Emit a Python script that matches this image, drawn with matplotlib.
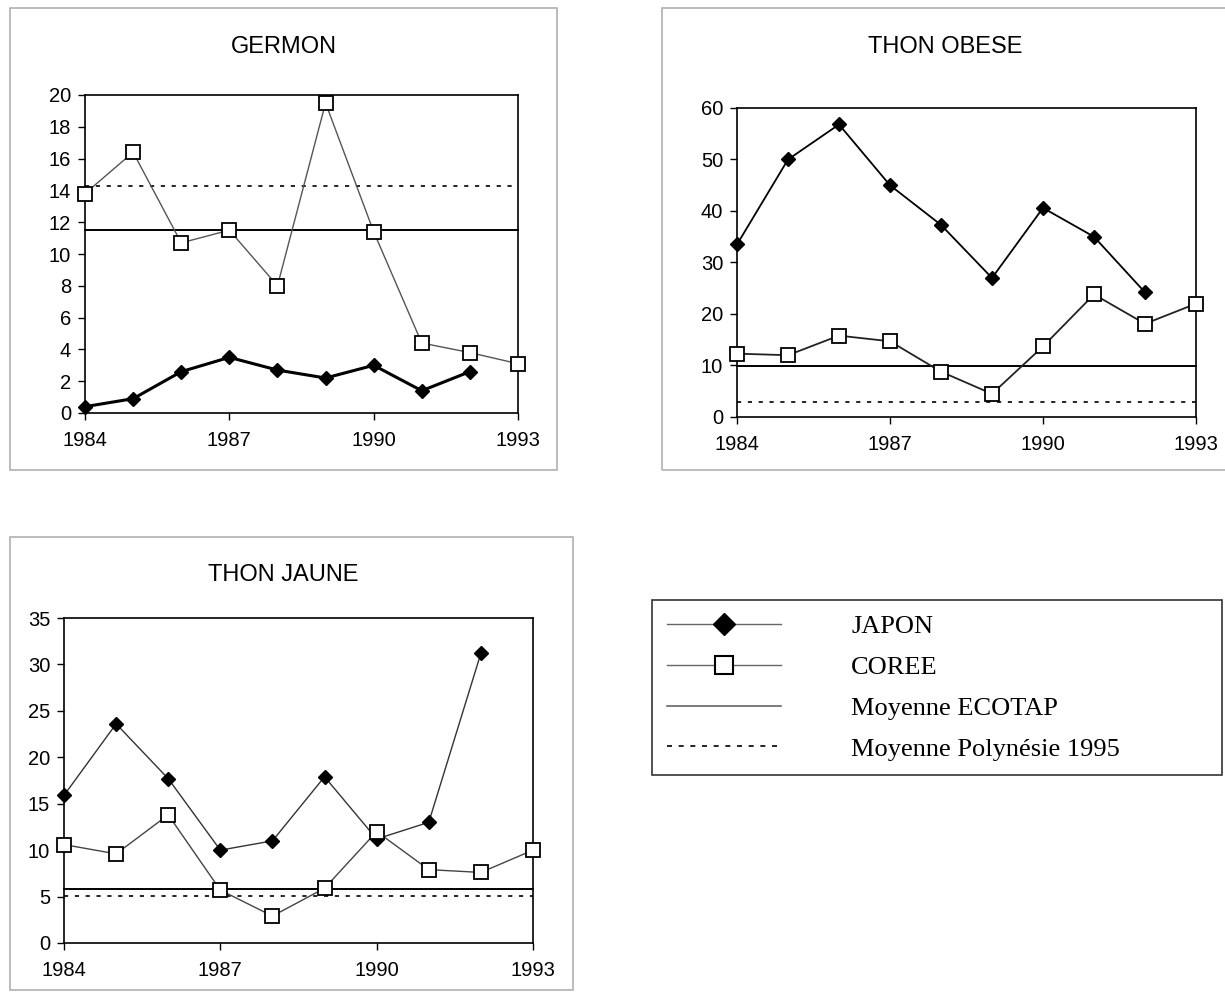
import matplotlib
matplotlib.use("Agg")
import matplotlib.pyplot as plt
from matplotlib.lines import Line2D
from matplotlib.patches import Rectangle

plt.rcParams['font.family'] = ['Liberation Sans', 'DejaVu Sans']

years_japon = [1984, 1985, 1986, 1987, 1988, 1989, 1990, 1991, 1992]
years_coree = [1984, 1985, 1986, 1987, 1988, 1989, 1990, 1991, 1992, 1993]

germon_japon = [0.4, 0.9, 2.6, 3.5, 2.7, 2.2, 3.0, 1.4, 2.6]
germon_coree = [13.8, 16.4, 10.7, 11.5, 8.0, 19.5, 11.4, 4.4, 3.8, 3.1]
germon_ecotap = 11.5
germon_polynesie = 14.3

obese_japon = [33.5, 50.0, 56.8, 45.0, 37.3, 27.0, 40.6, 35.0, 24.2]
obese_coree = [12.3, 12.0, 15.8, 14.7, 8.8, 4.5, 13.7, 23.8, 18.1, 22.0]
obese_ecotap = 9.9
obese_polynesie = 2.9

jaune_japon = [15.9, 23.6, 17.7, 10.0, 11.0, 17.9, 11.2, 13.0, 31.2]
jaune_coree = [10.6, 9.6, 13.8, 5.7, 2.9, 5.9, 12.0, 7.9, 7.6, 10.0]
jaune_ecotap = 5.8
jaune_polynesie = 5.1

x_ticks = [1984, 1987, 1990, 1993]
legend_labels = ["JAPON", "COREE", "Moyenne ECOTAP", "Moyenne Polynésie 1995"]

W, H = 1225, 994
fig = plt.figure(figsize=(W / 100, H / 100), dpi=100)
fig.patch.set_facecolor('white')


def px_axes(x0, y0, x1, y1):
    return fig.add_axes([x0 / W, 1 - y1 / H, (x1 - x0) / W, (y1 - y0) / H])


def frame(x0, y0, x1, y1):
    fig.patches.append(Rectangle((x0 / W, 1 - y1 / H), (x1 - x0) / W, (y1 - y0) / H,
                                 transform=fig.transFigure, fill=False,
                                 edgecolor='#b0b0b0', linewidth=1.2))


def panel(box, title, title_xy, japon, coree, ecotap, poly, ymax, ystep,
          jlw, clw, ccolor, jcolor):
    ax = px_axes(*box)
    ax.plot(years_japon, japon, color=jcolor, lw=jlw, marker='D', markersize=7.5,
            markerfacecolor='black', markeredgecolor='black', zorder=4)
    ax.plot(years_coree, coree, color=ccolor, lw=clw, marker='s', markersize=10,
            markerfacecolor='white', markeredgecolor='black', markeredgewidth=1.3,
            zorder=5)
    ax.axhline(ecotap, color='black', lw=1.4, zorder=3)
    ax.axhline(poly, color='black', lw=1.2, ls=(0, (2.5, 4)), zorder=3)
    ax.set_xlim(1984, 1993)
    ax.set_ylim(0, ymax)
    ax.set_xticks(x_ticks)
    ax.set_yticks(list(range(0, ymax + 1, ystep)))
    ax.tick_params(direction='out', length=5, width=1, labelsize=14.5)
    ax.tick_params(axis='x', pad=8)
    ax.tick_params(axis='y', pad=5)
    for s in ax.spines.values():
        s.set_linewidth(1.2)
    for m in ax.get_lines():
        m.set_clip_on(False)
    fig.text(title_xy[0] / W, 1 - title_xy[1] / H, title, ha='center', va='center',
             fontsize=17)
    return ax


frame(10, 8, 557, 470)
frame(662, 8, 1240, 470)
frame(10, 537, 573, 990)

ax1 = panel((85, 95, 518, 413), "GERMON", (284, 47),
            germon_japon, germon_coree, germon_ecotap, germon_polynesie, 20, 2,
            2.2, 1.0, '#555555', 'black')
ax2 = panel((737, 108, 1196, 417), "THON OBESE", (945, 47),
            obese_japon, obese_coree, obese_ecotap, obese_polynesie, 60, 10,
            1.3, 1.3, '#222222', 'black')
ax3 = panel((64, 618, 533, 943), "THON JAUNE", (283, 575),
            jaune_japon, jaune_coree, jaune_ecotap, jaune_polynesie, 35, 5,
            1.0, 1.0, '#444444', '#333333')

handles = [
    Line2D([], [], color='#666666', lw=1.0, marker='D', markersize=11,
           markerfacecolor='black', markeredgecolor='black'),
    Line2D([], [], color='#666666', lw=1.0, marker='s', markersize=13,
           markerfacecolor='white', markeredgecolor='black', markeredgewidth=1.5),
    Line2D([], [], color='#666666', lw=1.2),
    Line2D([], [], color='black', lw=1.2, ls=(0, (3, 4))),
]
leg = fig.legend(handles, legend_labels, loc='upper left',
                 bbox_to_anchor=(652 / W, 1 - 776 / H, (1222 - 652) / W, (776 - 600) / H),
                 mode='expand', frameon=True, fancybox=False, edgecolor='black',
                 prop={'family': 'Liberation Serif', 'size': 19},
                 handlelength=4.35, handletextpad=2.65, labelspacing=0.66,
                 borderpad=0.55, borderaxespad=0)
leg.get_frame().set_linewidth(1.2)

fig.savefig("out.png", dpi=100, facecolor='white')
